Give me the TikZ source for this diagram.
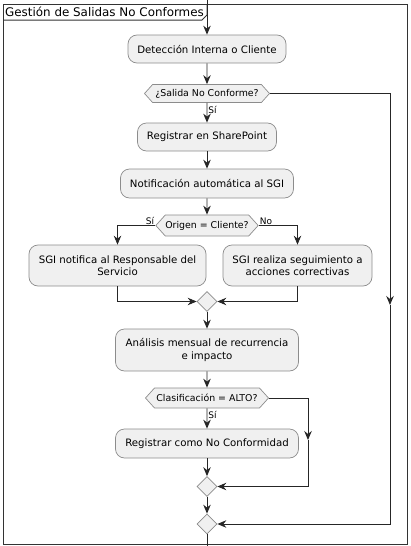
\documentclass[tikz,border=0pt]{standalone}
\usepackage{fontspec}
\setmainfont{DejaVu Sans}
\usepackage{tikz}
\usetikzlibrary{arrows.meta,shapes.symbols,shapes.geometric}

\begin{document}
\begin{tikzpicture}
        [x = 1pt, y = -1pt, >= {Stealth[length=9pt,width=7.5pt,inset=3pt]},
         act/.style = {draw=black!45, fill=black!6, rounded corners=9pt, line width=0.7pt,
                       align=center, inner sep=0pt, font=\fontsize{10.2}{12.5}\selectfont},
         dec/.style = {draw=black!45, fill=black!6, signal, signal to=west and east,
                       signal pointer angle=96, line width=0.7pt, inner sep=0pt,
                       font=\fontsize{9.4}{11}\selectfont},
         merge/.style = {draw=black!45, fill=black!6, diamond, line width=0.7pt,
                         minimum width=20pt, minimum height=20pt, inner sep=0pt},
         flow/.style = {draw=black!85, line width=0.9pt},
         lbl/.style = {font=\fontsize{9}{10}\selectfont, inner sep=1pt}]
        \useasboundingbox (0,0) rectangle (410,546);
        % frame and title tab
        \draw[black!80, line width=1pt] (3,4) rectangle (407,544);
        \draw[black!80, line width=1pt] (3,20) -- (202,20) -- (207,15) -- (207,4);
        \node[anchor=west, inner sep=0pt, font=\fontsize{11.9}{13}\selectfont] (title) at (5,12) {Gestión de Salidas No Conformes};
        % activities
        \node[act, minimum width=158pt, minimum height=28pt] (detect) at (207,49) {Detección Interna o Cliente};
        \node[dec, minimum width=125pt, minimum height=18pt] (isnc) at (207,93.5) {¿Salida No Conforme?};
        \node[act, minimum width=139pt, minimum height=28pt] (register) at (207,137) {Registrar en SharePoint};
        \node[act, minimum width=173pt, minimum height=29pt] (notify) at (207,183.5) {Notificación automática al SGI};
        \node[dec, minimum width=101pt, minimum height=21pt] (origin) at (207,225.5) {Origen = Cliente?};
        \node[act, minimum width=177pt, minimum height=41pt] (resp) at (117.5,265.5) {SGI notifica al Responsable del\\Servicio};
        \node[act, minimum width=149pt, minimum height=41pt] (follow) at (297.5,265.5) {SGI realiza seguimiento a\\acciones correctivas};
        \node[merge] (mergeA) at (207,301.5) {};
        \node[act, minimum width=183pt, minimum height=42pt] (analysis) at (207,350) {Análisis mensual de recurrencia\\e impacto};
        \node[dec, minimum width=123pt, minimum height=20pt] (level) at (207,398) {Clasificación = ALTO?};
        \node[act, minimum width=183pt, minimum height=29pt] (ncreg) at (207,443.5) {Registrar como No Conformidad};
        \node[merge] (mergeB) at (207,486.5) {};
        \node[merge] (mergeC) at (207,524) {};
        \coordinate (start) at (207,0);
        \coordinate (stop) at (207,546);
        \coordinate (skipA) at (390,305);
        \coordinate (skipB) at (308,440);
        % connectors
        \draw[flow, ->] (start) -- (detect);
        \draw[flow, ->] (detect) -- (isnc);
        \draw[flow, ->] (isnc) -- node[lbl, anchor=west, pos=0.35] {Sí} (register);
        \draw[flow, ->] (isnc.east) -| (skipA);
        \draw[flow, ->] (skipA) |- (mergeC.east);
        \draw[flow, ->] (register) -- (notify);
        \draw[flow, ->] (notify) -- (origin);
        \draw[flow, ->] (origin.west) -| (resp.north);
        \draw[flow, ->] (origin.east) -| (follow.north);
        \node[lbl, anchor=south east] at (origin.west) {Sí};
        \node[lbl, anchor=south west] at (origin.east) {No};
        \draw[flow, ->] (resp.south) |- (mergeA.west);
        \draw[flow, ->] (follow.south) |- (mergeA.east);
        \draw[flow, ->] (mergeA) -- (analysis);
        \draw[flow, ->] (analysis) -- (level);
        \draw[flow, ->] (level) -- node[lbl, anchor=west, pos=0.35] {Sí} (ncreg);
        \draw[flow, ->] (level.east) -| (skipB);
        \draw[flow, ->] (skipB) |- (mergeB.east);
        \draw[flow, ->] (ncreg) -- (mergeB);
        \draw[flow, ->] (mergeB) -- (mergeC);
        \draw[flow] (mergeC) -- (stop);
      \end{tikzpicture}
\end{document}
